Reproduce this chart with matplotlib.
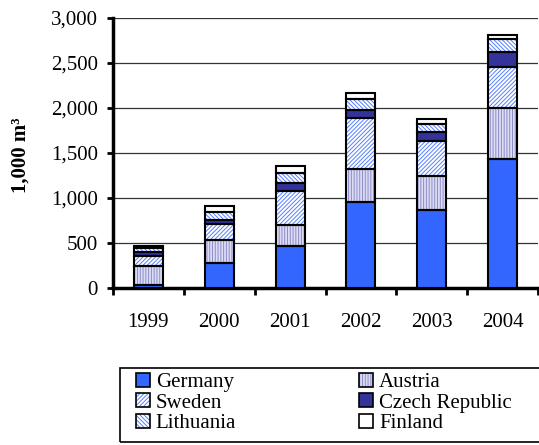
import numpy as np
import matplotlib
matplotlib.use("Agg")
import matplotlib.pyplot as plt
import matplotlib.patches as mpatches

# Values (1,000 m3)
years = ["1999", "2000", "2001", "2002", "2003", "2004"]
germany = [30, 278, 463, 952, 870, 1433]
austria = [210, 252, 237, 374, 371, 563]
sweden = [119, 181, 374, 563, 396, 456]
czech = [41, 41, 89, 89, 93, 170]
lithuania = [44, 96, 115, 122, 96, 145]
finland = [26, 59, 74, 67, 52, 48]

series = [
    ("Germany", germany, "#3366FF", None, None),
    ("Austria", austria, "#DCDCF4", "||||||", "#8C8CC8"),
    ("Sweden", sweden, "white", "////////", "#5580FF"),
    ("Czech Republic", czech, "#333399", None, None),
    ("Lithuania", lithuania, "white", "\\\\\\\\\\\\\\\\", "#5580FF"),
    ("Finland", finland, "white", None, None),
]

plt.rcParams["font.family"] = ["Liberation Serif", "DejaVu Serif"]
plt.rcParams["hatch.linewidth"] = 0.7

fig = plt.figure(figsize=(5.39, 4.45), dpi=100)
ax = fig.add_axes([113 / 539, 1 - 288 / 445, 425 / 539, 270 / 445])

x = np.arange(len(years))
w = 0.41
bottom = np.zeros(len(years))
handles = []
for name, vals, face, hatch, hcol in series:
    vals = np.array(vals, dtype=float)
    if hatch:
        ax.bar(x, vals, w, bottom=bottom, color=face, hatch=hatch,
               edgecolor=hcol, linewidth=0, zorder=3)
    else:
        ax.bar(x, vals, w, bottom=bottom, color=face, linewidth=0, zorder=3)
    ax.bar(x, vals, w, bottom=bottom, fill=False, edgecolor="black",
           linewidth=1.5, zorder=4)
    bottom += vals
    fillp = mpatches.Patch(facecolor=face, hatch=hatch,
                           edgecolor=hcol if hatch else face, linewidth=0)
    edgep = mpatches.Patch(fill=False, edgecolor="black", linewidth=1.2)
    handles.append(((fillp, edgep), name))

ax.set_xlim(-0.5, len(years) - 0.5)
ax.set_ylim(0, 3000)
ax.set_yticks(np.arange(0, 3001, 500))
ax.set_yticklabels([f"{v:,}" for v in range(0, 3001, 500)], fontsize=15)
ax.set_xticks(x)
ax.set_xticklabels(years, fontsize=15)
ax.set_xticks(np.arange(-0.5, len(years)), minor=True)
ax.tick_params(axis="x", which="major", length=0, pad=18)
ax.tick_params(axis="x", which="minor", length=5, width=2, direction="out")
ax.tick_params(axis="y", length=4, width=2, direction="out", pad=7)

ax.grid(axis="y", color="#333333", linewidth=0.9, zorder=0)
ax.set_axisbelow(True)
for s in ("top", "right"):
    ax.spines[s].set_visible(False)
for s in ("left", "bottom"):
    ax.spines[s].set_linewidth(2.5)

fig.text(21 / 539, 1 - 155 / 445, "1,000 m³", rotation=90, fontsize=15,
         fontweight="bold", ha="center", va="center")

# legend box
fig.patches.append(mpatches.Rectangle((120 / 539, 3 / 445), 430 / 539, 74 / 445,
                                      transform=fig.transFigure, fill=False,
                                      edgecolor="black", linewidth=1.2))
# legend is filled row by row: column 1 = Germany, Sweden, Lithuania
order = [0, 2, 4, 1, 3, 5]
leg = fig.legend([handles[i][0] for i in order], [handles[i][1] for i in order],
                 ncol=2, loc="upper left",
                 bbox_to_anchor=(136 / 539, 1 - 373 / 445),
                 frameon=False, fontsize=15, handlelength=0.65,
                 handleheight=0.65, handletextpad=0.3, columnspacing=5.9,
                 labelspacing=0.05, borderpad=0, borderaxespad=0)

fig.savefig("out.png", dpi=100)
